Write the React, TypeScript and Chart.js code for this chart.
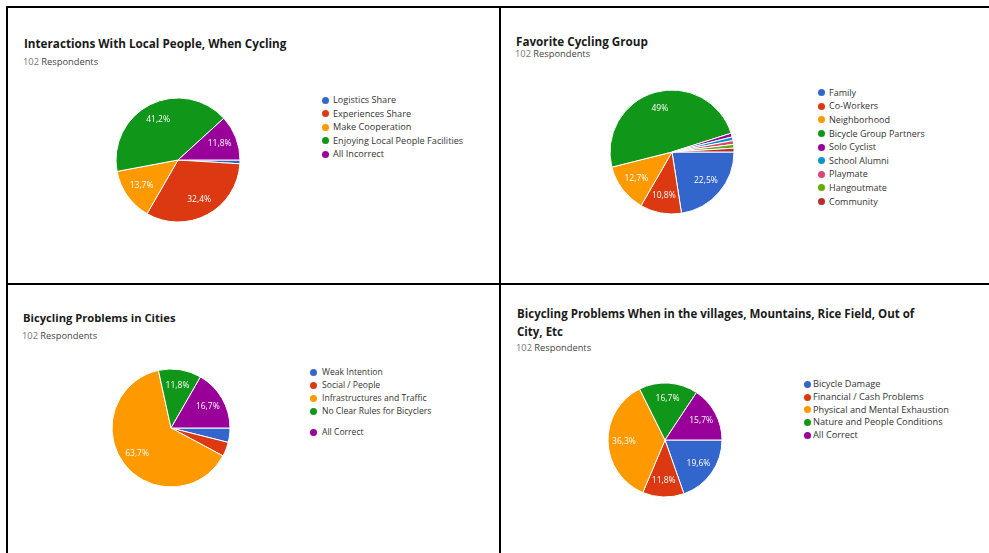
import React, { useEffect, useRef } from "react";
import { Chart, registerables } from "chart.js";

Chart.register(...registerables);

// ---------- DATA ----------
const palette = ["#3366cc", "#dc3912", "#ff9900", "#109618", "#990099", "#0099c6", "#dd4477", "#66aa00", "#b82e2e"];

const respondents = "102";

const interactionTitle = ["Interactions With Local People, When Cycling"];
const interactionLabels = ["Logistics Share", "Experiences Share", "Make Cooperation", "Enjoying Local People Facilities", "All Incorrect"];
const interactionValues = [1, 33, 14, 42, 12];

const groupTitle = ["Favorite Cycling Group"];
const groupLabels = ["Family", "Co-Workers", "Neighborhood", "Bicycle Group Partners", "Solo Cyclist", "School Alumni", "Playmate", "Hangoutmate", "Community"];
const groupValues = [23, 11, 13, 50, 1, 1, 1, 1, 1];

const cityTitle = ["Bicycling Problems in Cities"];
const cityLabels = ["Weak Intention", "Social / People", "Infrastructures and Traffic", "No Clear Rules for Bicyclers", "All Correct"];
const cityValues = [4, 4, 65, 12, 17];

const villageTitle = ["Bicycling Problems When in the villages, Mountains, Rice Field, Out of", "City, Etc"];
const villageLabels = ["Bicycle Damage", "Financial / Cash Problems", "Physical and Mental Exhaustion", "Nature and People Conditions", "All Correct"];
const villageValues = [20, 12, 37, 17, 16];

// ---------- PLUGIN: percentage labels ----------
const fmtPct = (p: number) => {
  let s = p.toFixed(1);
  if (s.endsWith(".0")) s = s.slice(0, -2);
  return s.replace(".", ",") + "%";
};

const pctPlugin = {
  id: "pctLabels",
  afterDatasetsDraw(chart: any) {
    const ctx = chart.ctx as CanvasRenderingContext2D;
    const meta = chart.getDatasetMeta(0);
    const data = chart.data.datasets[0].data as number[];
    const total = data.reduce((a, b) => a + b, 0);
    ctx.save();
    ctx.fillStyle = "#ffffff";
    ctx.font = "8.5px 'Open Sans'";
    ctx.textAlign = "center";
    ctx.textBaseline = "middle";
    meta.data.forEach((arc: any, i: number) => {
      const pct = (data[i] / total) * 100;
      if (pct < 5) return;
      const { x, y, startAngle, endAngle, outerRadius } = arc.getProps(["x", "y", "startAngle", "endAngle", "outerRadius"], true);
      const mid = (startAngle + endAngle) / 2;
      const rr = outerRadius * 0.72;
      ctx.fillText(fmtPct(pct), x + Math.cos(mid) * rr, y + Math.sin(mid) * rr);
    });
    ctx.restore();
  },
};

// ---------- COMPONENTS ----------
type PieProps = { labels: string[]; values: number[]; cx: number; cy: number; r: number };

function Pie({ labels, values, cx, cy, r }: PieProps) {
  const ref = useRef<HTMLCanvasElement>(null);
  const S = 2 * r + 10;
  useEffect(() => {
    const chart = new Chart(ref.current as HTMLCanvasElement, {
      type: "pie",
      data: {
        labels,
        datasets: [
          {
            data: values,
            backgroundColor: palette.slice(0, values.length),
            borderColor: "#ffffff",
            borderWidth: 1,
          },
        ],
      },
      options: {
        animation: false,
        responsive: false,
        maintainAspectRatio: false,
        rotation: 90,
        radius: r,
        events: [],
        layout: { padding: 0 },
        plugins: {
          legend: { display: false },
          tooltip: { enabled: false },
          title: { display: false },
        },
      } as any,
      plugins: [pctPlugin],
    });
    return () => chart.destroy();
  }, []);
  return (
    <canvas
      ref={ref}
      width={S}
      height={S}
      style={{ position: "absolute", left: cx - S / 2, top: cy - S / 2, width: S, height: S }}
    />
  );
}

type PanelProps = {
  title: string[];
  labels: string[];
  values: number[];
  tx: number;
  ty: number;
  tLine: number;
  tSize: number;
  sy: number;
  cx: number;
  cy: number;
  r: number;
  dotX: number;
  textX: number;
  ly: number;
  lStep: number;
  lSize: number;
  gapIndex?: number;
  gap?: number;
};

function Panel(p: PanelProps) {
  const L = 16;
  return (
    <>
      {p.title.map((t, i) => (
        <div
          key={"t" + i}
          style={{
            position: "absolute",
            left: p.tx,
            top: p.ty + i * p.tLine - L / 2,
            height: L,
            lineHeight: L + "px",
            whiteSpace: "nowrap",
            fontFamily: "'Open Sans'",
            fontWeight: 700,
            fontSize: p.tSize,
            color: "#1a1a1a",
          }}
        >
          {t}
        </div>
      ))}
      <div
        style={{
          position: "absolute",
          left: p.tx - 1,
          top: p.sy - L / 2,
          height: L,
          lineHeight: L + "px",
          whiteSpace: "nowrap",
          fontFamily: "'Open Sans'",
          fontSize: 9.3,
          color: "#444",
        }}
      >
        <span style={{ color: "#777" }}>{respondents}</span> Respondents
      </div>
      <Pie labels={p.labels} values={p.values} cx={p.cx} cy={p.cy} r={p.r} />
      {p.labels.map((lab, i) => {
        const y = p.ly + i * p.lStep + (p.gapIndex !== undefined && i >= p.gapIndex ? p.gap || 0 : 0);
        return (
          <React.Fragment key={"l" + i}>
            <div
              style={{
                position: "absolute",
                left: p.dotX - 3.5,
                top: y - 3.5,
                width: 7,
                height: 7,
                borderRadius: "50%",
                background: palette[i],
              }}
            />
            <div
              style={{
                position: "absolute",
                left: p.textX,
                top: y - L / 2,
                height: L,
                lineHeight: L + "px",
                whiteSpace: "nowrap",
                fontFamily: "'Open Sans'",
                fontSize: p.lSize,
                color: "#333",
              }}
            >
              {lab}
            </div>
          </React.Fragment>
        );
      })}
    </>
  );
}

const line = (left: number, top: number, width: number, height: number) => (
  <div style={{ position: "absolute", left, top, width, height, background: "#000" }} />
);

export default function App() {
  return (
    <div
      style={{
        position: "absolute",
        left: 0,
        top: 0,
        width: 989,
        height: 553,
        overflow: "hidden",
        background: "#ffffff",
      }}
    >
      {line(6, 6, 983, 2)}
      {line(6, 6, 2, 547)}
      {line(499, 6, 2, 547)}
      {line(6, 283, 983, 2)}

      <Panel
        title={interactionTitle}
        labels={interactionLabels}
        values={interactionValues}
        tx={24} ty={43} tLine={17} tSize={11.7} sy={62}
        cx={178} cy={160} r={62}
        dotX={325} textX={333} ly={100} lStep={13.6} lSize={9.15}
      />
      <Panel
        title={groupTitle}
        labels={groupLabels}
        values={groupValues}
        tx={516} ty={40.7} tLine={17} tSize={11.7} sy={54.3}
        cx={672} cy={152} r={62}
        dotX={821} textX={829} ly={92.7} lStep={13.6} lSize={9.0}
      />
      <Panel
        title={cityTitle}
        labels={cityLabels}
        values={cityValues}
        tx={23} ty={318.3} tLine={17} tSize={11.2} sy={336}
        cx={171} cy={428} r={59}
        dotX={313} textX={322} ly={372.3} lStep={12.9} lSize={8.6} gapIndex={4} gap={8.5}
      />
      <Panel
        title={villageTitle}
        labels={villageLabels}
        values={villageValues}
        tx={517} ty={314.3} tLine={17.4} tSize={11.5} sy={348.3}
        cx={665} cy={440} r={57}
        dotX={807} textX={813} ly={384.3} lStep={12.7} lSize={9.25}
      />
    </div>
  );
}
